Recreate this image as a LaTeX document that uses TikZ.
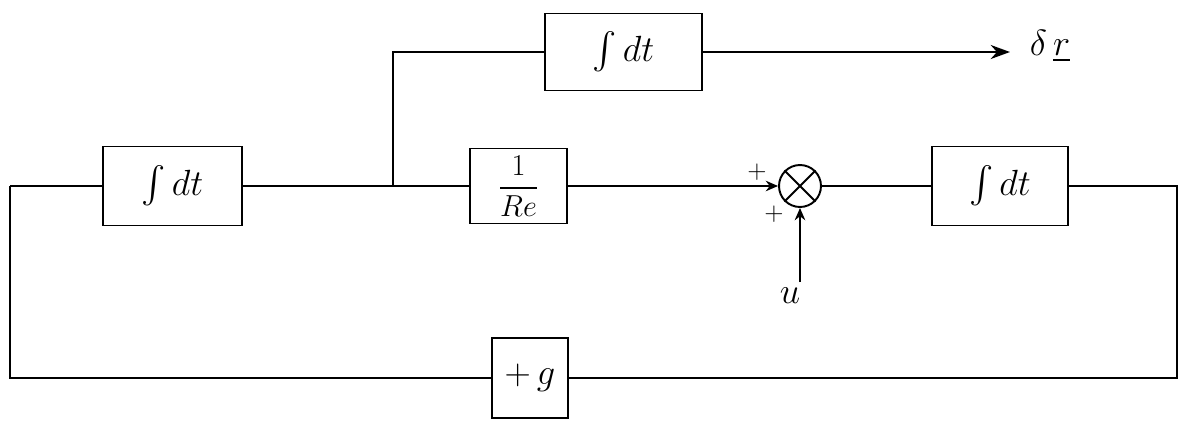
\documentclass[tikz,border=0pt]{standalone}
\usepackage{amsmath}
\usetikzlibrary{arrows.meta}
\begin{document}
\begin{tikzpicture}[x=0.02cm,y=-0.02cm,line width=1.1pt,
  blk/.style={draw,rectangle,inner sep=3pt,font=\huge},
  sumnode/.style={draw,circle,minimum size=0.84cm,inner sep=0pt},
  conn/.style={line width=1.1pt},
  arr/.style={-{Stealth[length=11pt,width=8pt]}},
  sarr/.style={-{Stealth[length=7pt,width=6pt]}}]
\useasboundingbox (0,0) rectangle (1178,420);
% blocks
\node[blk,minimum width=2.78cm,minimum height=1.58cm] (int1) at (172.5,186) {$\int dt$};
\node[blk,minimum width=3.14cm,minimum height=1.54cm] (top) at (623.5,52) {$\int dt$};
\node[blk,minimum width=1.94cm,minimum height=1.5cm,font=\LARGE] (re) at (518.5,186) {$\dfrac{1}{Re}$};
\node[blk,minimum width=2.72cm,minimum height=1.58cm] (int2) at (1000,186) {$\int dt$};
\node[blk,minimum width=1.52cm,minimum height=1.6cm] (g) at (530,378) {$+\,g$};
\node[sumnode] (sum) at (800,186) {};
\draw[line width=1.1pt] (sum.north west) -- (sum.south east) (sum.north east) -- (sum.south west);
% coordinates
\coordinate (c1) at (10,186);
\coordinate (c2) at (10,378);
\coordinate (c3) at (1177,186);
\coordinate (c4) at (1177,378);
\coordinate (b) at (393,186);
\coordinate (tend) at (1010,52);
\coordinate (uin) at (800,282);
% labels
\node[font=\huge] (dr) at (1050,46) {$\delta\,\underline{r}$};
\node[font=\Large] (p1) at (757,172) {$+$};
\node[font=\Large] (p2) at (774,214) {$+$};
\node[font=\huge] (ulab) at (790,296) {$u$};
% connectors
\draw[conn] (c1) -- (int1.west);
\draw[conn] (int1.east) -- (re.west);
\draw[conn] (b) |- (top.west);
\draw[conn,arr] (top.east) -- (tend);
\draw[conn,sarr] (re.east) -- (sum.west);
\draw[conn,sarr] (uin) -- (sum.south);
\draw[conn] (sum.east) -- (int2.west);
\draw[conn] (int2.east) -- (c3) -- (c4) -- (g.east);
\draw[conn] (g.west) -- (c2) -- (c1);
\end{tikzpicture}
\end{document}
